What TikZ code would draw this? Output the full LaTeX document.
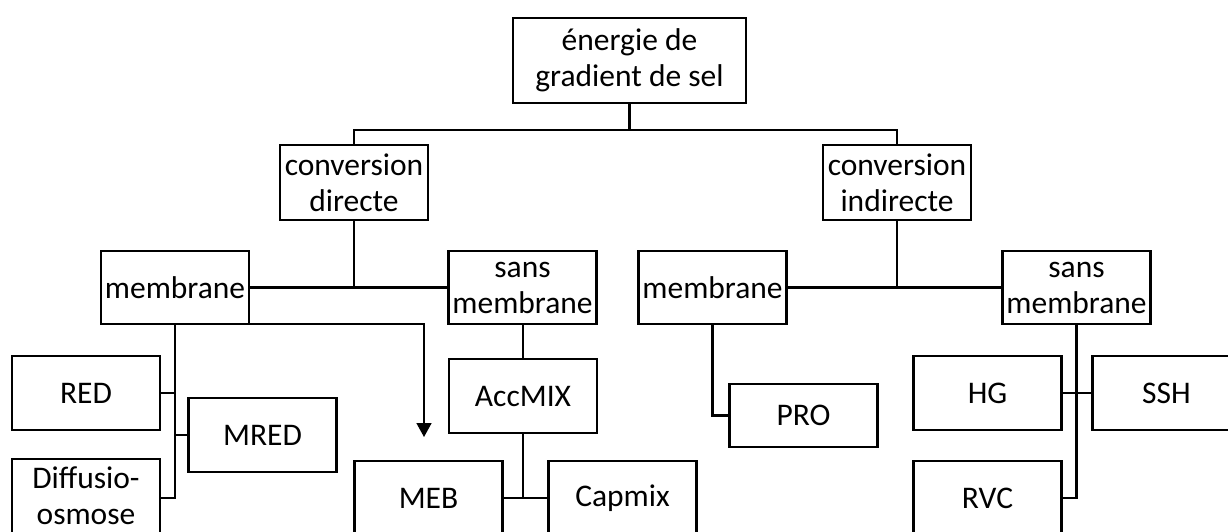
\documentclass[tikz,border=0pt]{standalone}
\usepackage{fontspec}
\setmainfont{Carlito}
\usetikzlibrary{arrows.meta}
\begin{document}
\begin{tikzpicture}[x=1pt,y=-1pt,
  bx/.style={draw=black, line width=2.5pt, fill=white, inner sep=0pt, align=center,
    minimum width=148pt, minimum height=74pt, font=\fontsize{31.5}{36}\selectfont},
  ln/.style={draw=black, line width=2.5pt},
  arr/.style={draw=black, line width=1.6pt, -{Triangle[width=15pt,length=14pt]}}]
\useasboundingbox (0,0) rectangle (1228,531);
\clip (0,0) rectangle (1228,531);
\coordinate (j1) at (629.5,130);
\coordinate (aend) at (424,437);
% nodes
\node[bx, minimum width=233pt, minimum height=85pt] (top) at (629.5,60.5) {énergie de\\gradient de sel};
\node[bx, minimum height=75pt] (cd) at (354,182.5) {conversion\\directe};
\node[bx, minimum height=75pt] (ci) at (897,182.5) {conversion\\indirecte};
\node[bx, minimum height=73pt] (memL) at (175,287.5) {membrane};
\node[bx, minimum height=73pt] (sansL) at (522.5,287.5) {sans\\membrane};
\node[bx, minimum height=73pt] (memR) at (712.5,287.5) {membrane};
\node[bx, minimum height=73pt] (sansR) at (1076.5,287.5) {sans\\membrane};
\node[bx] (red) at (86,393) {RED};
\node[bx] (mred) at (262.5,435) {MRED};
\node[bx, text depth=0pt] (diff) at (86,496) {Diffusio-\\osmose};
\node[bx] (acc) at (523,396) {AccMIX};
\node[bx] (meb) at (428.5,498) {MEB};
\node[bx] (cap) at (622.5,498) {Capmix};
\node[bx, minimum height=63pt] (pro) at (803.5,415.5) {PRO};
\node[bx] (hg) at (987.5,393) {HG};
\node[bx] (ssh) at (1166.5,393) {SSH};
\node[bx] (rvc) at (987.5,498) {RVC};
% connectors
\draw[ln] (top.south) -- (j1);
\draw[ln] (cd.north) |- (j1) -| (ci.north);
\draw[ln] (cd.south) -- (cd.south |- memL.east);
\draw[ln] (memL.east) -- (sansL.west);
\draw[ln] (ci.south) -- (ci.south |- memR.east);
\draw[ln] (memR.east) -- (sansR.west);
\draw[ln] (memL.south) |- (meb.west -| diff.east);
\draw[ln] (red.east) -- (red.east -| memL.south);
\draw[ln] (mred.west) -- (mred.west -| memL.south);
\draw[arr] ([yshift=1.5pt]memL.south) -| (aend);
\draw[ln] (sansL.south -| acc.north) -- (acc.north);
\draw[ln] (acc.south) -- (acc.south |- meb.east);
\draw[ln] (meb.east) -- (cap.west);
\draw[ln] (memR.south) |- (pro.west);
\draw[ln] (sansR.south) |- (rvc.east);
\draw[ln] (hg.east) -- (ssh.west);
\end{tikzpicture}
\end{document}
